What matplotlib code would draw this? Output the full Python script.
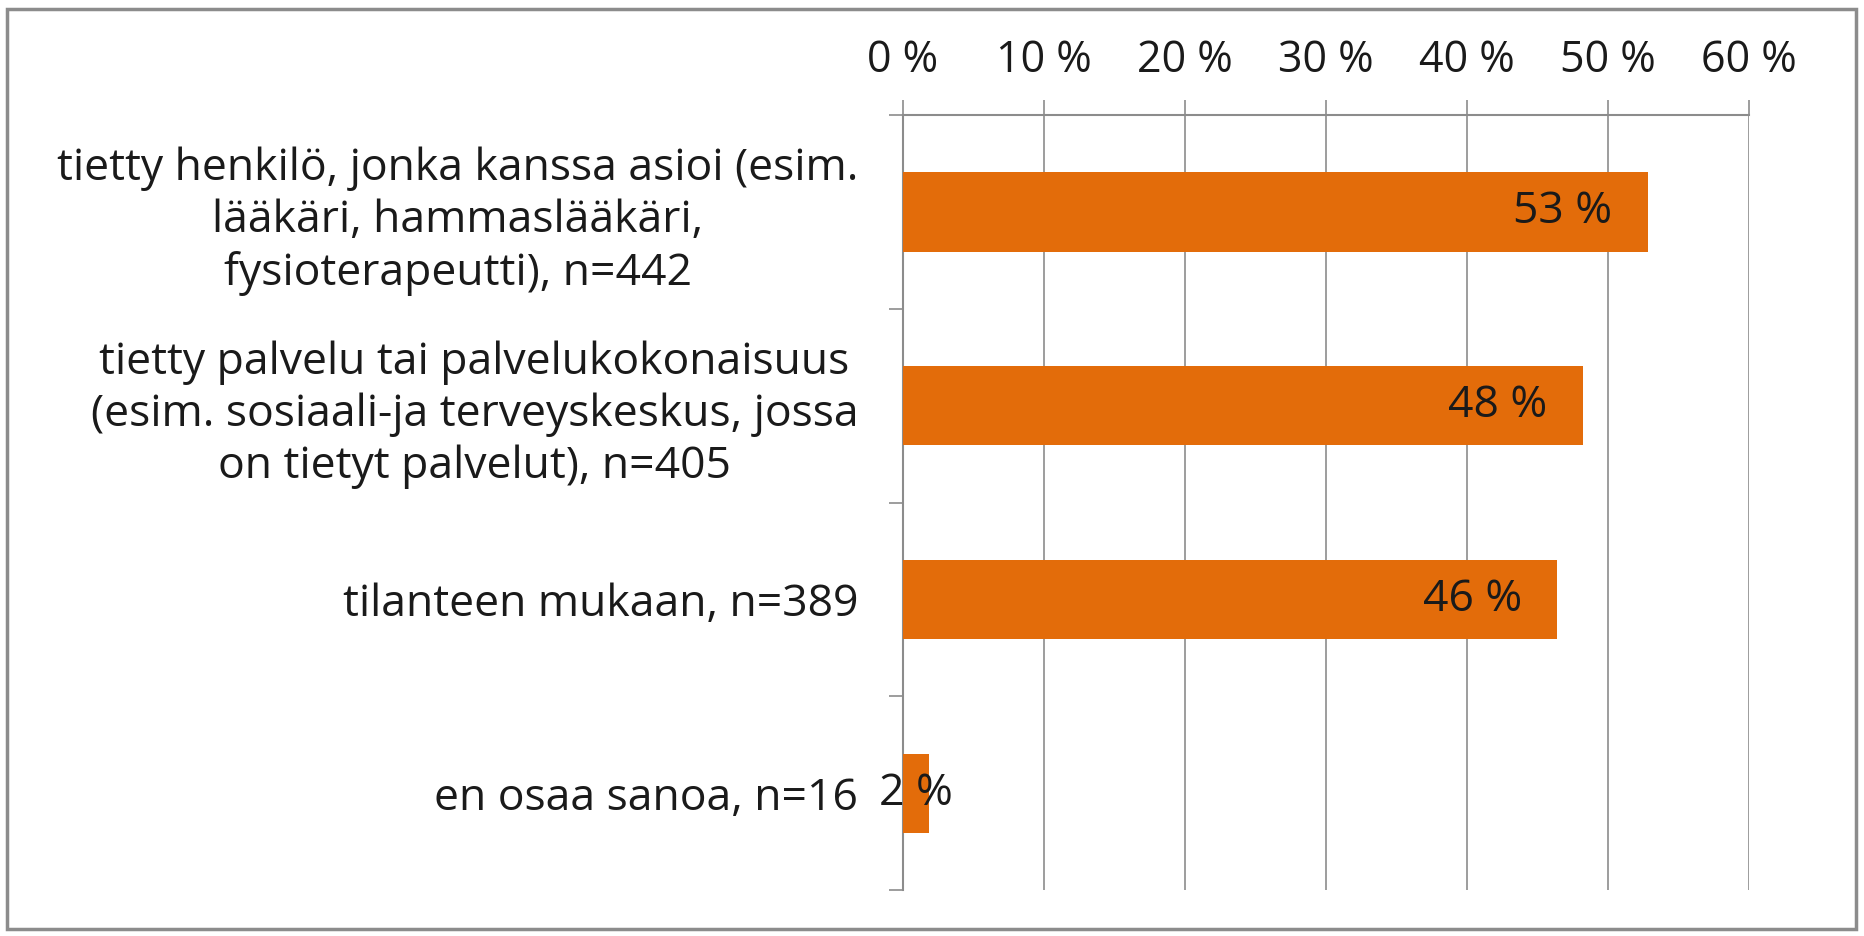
import numpy as np
import matplotlib
matplotlib.use('Agg')
import matplotlib.pyplot as plt
from matplotlib.patches import Rectangle

##-Data
categories = [
    'tietty henkilö, jonka kanssa asioi (esim.\nlääkäri, hammaslääkäri,\nfysioterapeutti), n=442',
    'tietty palvelu tai palvelukokonaisuus\n(esim. sosiaali-ja terveyskeskus, jossa\non tietyt palvelut), n=405',
    'tilanteen mukaan, n=389',
    'en osaa sanoa, n=16',
]
values = [52.8, 48.2, 46.4, 1.9]
value_labels = ['53 %', '48 %', '46 %', '2 %']
xticks = [0, 10, 20, 30, 40, 50, 60]
xtick_labels = ['0 %', '10 %', '20 %', '30 %', '40 %', '50 %', '60 %']

bar_color = '#E36C0A'
grid_color = '#8C8C8C'
text_color = '#1A1A1A'
fs = 32

plt.rcParams['font.family'] = ['Open Sans', 'DejaVu Sans']

fig = plt.figure(figsize=(18.65, 9.36), dpi=100)
ax = fig.add_axes([0.484, 0.049, 0.454, 0.828])

y = np.arange(len(categories))
ax.barh(y, values, height=0.41, color=bar_color, zorder=3)

ax.set_xlim(0, 60)
ax.set_ylim(len(categories) - 0.5, -0.5)

#---x axis on top
ax.xaxis.tick_top()
ax.set_xticks(xticks)
ax.set_xticklabels(xtick_labels, fontsize=31, color=text_color)
ax.tick_params(axis='x', direction='out', length=11, width=1.2, color=grid_color, pad=12)
ax.grid(axis='x', color=grid_color, linewidth=1.2, zorder=0)

#---y axis
ax.set_yticks(y)
ax.set_yticklabels(categories, fontsize=fs, color=text_color, multialignment='center', linespacing=1.22)
ax.set_yticks(np.arange(len(categories) + 1) - 0.5, minor=True)
ax.tick_params(axis='y', which='major', length=0, pad=32)
ax.tick_params(axis='y', which='minor', direction='out', length=10, width=1.2, color=grid_color)

for side in ['right', 'bottom']:
    ax.spines[side].set_visible(False)
for side in ['left', 'top']:
    ax.spines[side].set_color(grid_color)
    ax.spines[side].set_linewidth(1.5)

#---value labels
for yi, v, lab in zip(y, values, value_labels):
    if v < 5:
        ax.text(v / 2, yi, lab, ha='center', va='center', fontsize=fs, color=text_color, zorder=4)
    else:
        ax.text(v - 2.5, yi, lab, ha='right', va='center', fontsize=fs, color=text_color, zorder=4)

#---border round the chart
fig.patches.append(Rectangle((0.004, 0.008), 0.991, 0.982, transform=fig.transFigure,
                             fill=False, edgecolor='#8C8C8C', linewidth=2.5))

fig.savefig('out.png', dpi=100)
